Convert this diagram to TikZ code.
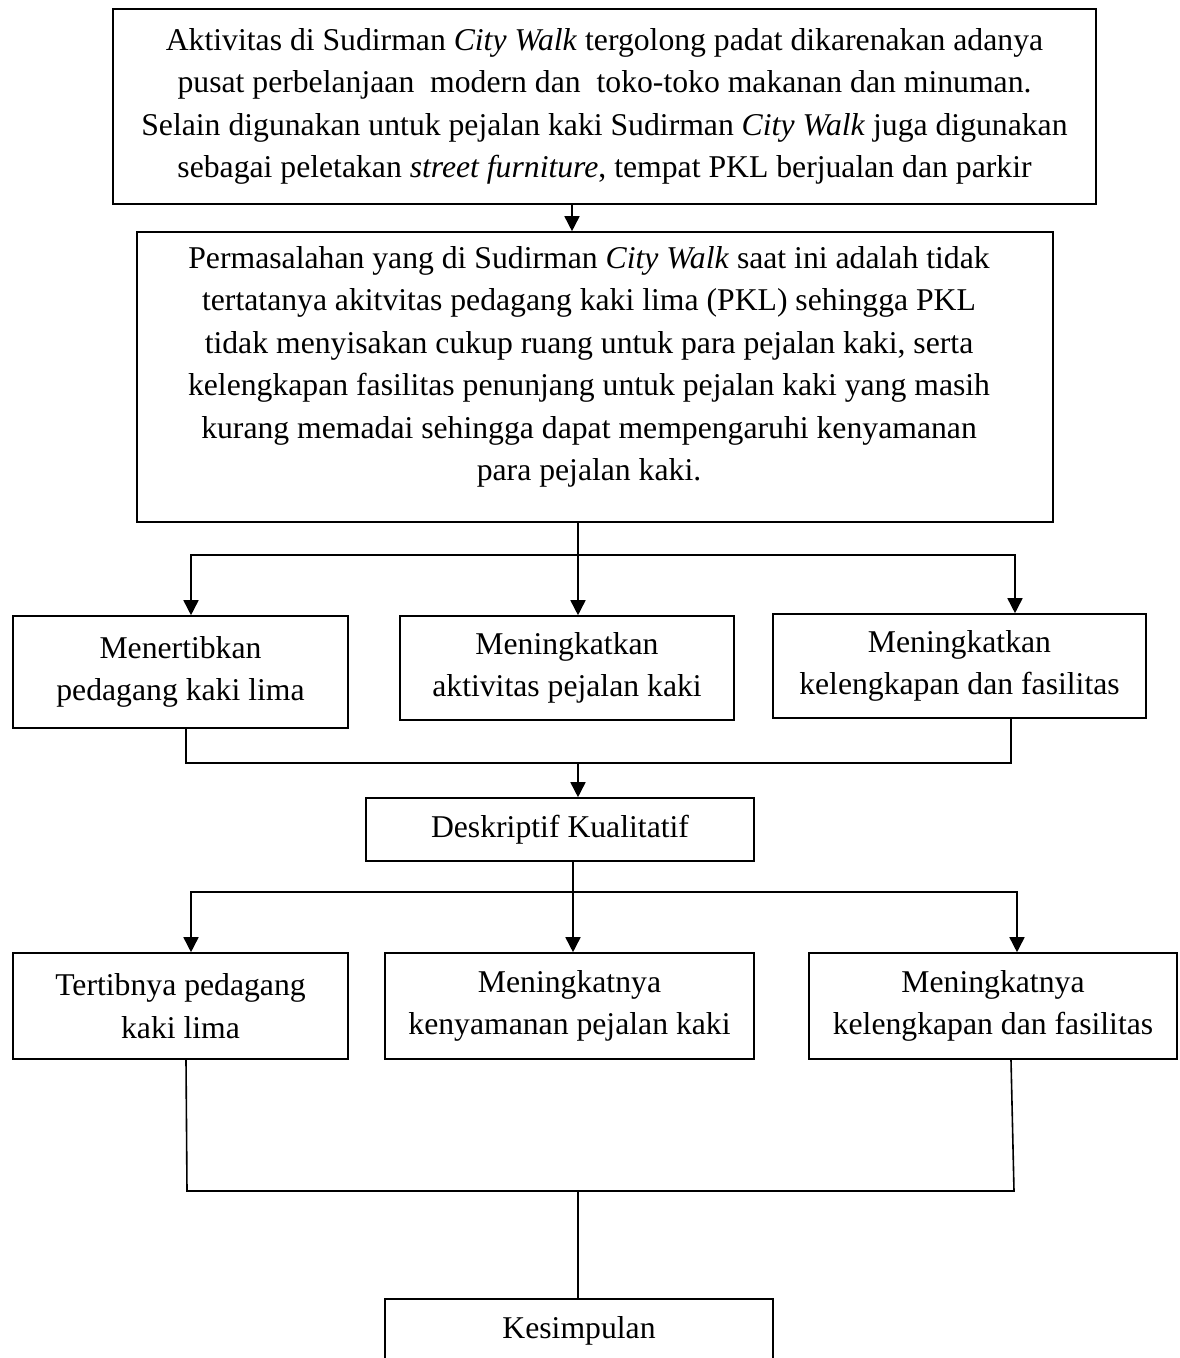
\documentclass[tikz,border=0pt]{standalone}
\usepackage{fontspec}
\setmainfont{Liberation Serif}
\usetikzlibrary{arrows.meta}
\begin{document}
\begin{tikzpicture}[x=1pt,y=-1pt,
  box/.style={draw,line width=1.6pt,inner sep=0pt,align=center,font=\fontsize{31.7}{42.5}\selectfont},
  txt/.style={inner sep=0pt,align=center,font=\fontsize{31.7}{42.5}\selectfont},
  con/.style={line width=1.6pt},
  thinc/.style={line width=1.2pt},
  arr/.style={line width=1.6pt,-{Triangle[length=15pt,width=15pt]}},
  darr/.style={line width=1.6pt,{Triangle[length=15pt,width=15pt]}-{Triangle[length=15pt,width=15pt]}}]
\useasboundingbox (0,0) rectangle (1180,1358);
\fill[white] (0,0) rectangle (1180,1358);

% boxes
\node[box,minimum width=983pt,minimum height=195pt] (top1) at (604.5,106.5)
 {Aktivitas di Sudirman \textit{City Walk} tergolong padat dikarenakan adanya\\
  pusat perbelanjaan\ \ modern dan\ \ toko-toko makanan dan minuman.\\
  Selain digunakan untuk pejalan kaki Sudirman \textit{City Walk} juga digunakan\\
  sebagai peletakan \textit{street furniture}, tempat PKL berjualan dan parkir};

\node[box,minimum width=916pt,minimum height=290pt] (top2) at (595,377) {};
\node[txt] (top2t) at (589,367)
 {Permasalahan yang di Sudirman \textit{City Walk} saat ini adalah tidak\\
  tertatanya akitvitas pedagang kaki lima (PKL) sehingga PKL\\
  tidak menyisakan cukup ruang untuk para pejalan kaki, serta\\
  kelengkapan fasilitas penunjang untuk pejalan kaki yang masih\\
  kurang memadai sehingga dapat mempengaruhi kenyamanan\\
  para pejalan kaki.};

\node[box,minimum width=335pt,minimum height=112pt] (a1) at (180.5,672) {Menertibkan\\ pedagang kaki lima};
\node[box,minimum width=334pt,minimum height=104pt] (a2) at (567,668) {Meningkatkan\\ aktivitas pejalan kaki};
\node[box,minimum width=373pt,minimum height=104pt] (a3) at (959.5,666) {Meningkatkan\\ kelengkapan dan fasilitas};

\node[box,minimum width=388pt,minimum height=63pt] (dk) at (560,829.5) {Deskriptif Kualitatif};

\node[box,minimum width=335pt,minimum height=106pt] (c1) at (180.5,1006) {Tertibnya pedagang\\ kaki lima};
\node[box,minimum width=369pt,minimum height=106pt] (c2) at (569.5,1006) {Meningkatnya\\ kenyamanan pejalan kaki};
\node[box,minimum width=368pt,minimum height=106pt] (c3) at (993,1006) {Meningkatnya\\ kelengkapan dan fasilitas};

\node[box,minimum width=388pt,minimum height=63pt] (ks) at (579,1330.5) {Kesimpulan};

% junction coordinates
\coordinate (x1) at (572,0);
\coordinate (f1C) at (578,555);
\coordinate (f1L) at (191,555);
\coordinate (f1R) at (1015,555);
\coordinate (m1L) at (186,763);
\coordinate (m1R) at (1011,763);
\coordinate (m1C) at (578,763);
\coordinate (f2C) at (573,892);
\coordinate (f2L) at (191,892);
\coordinate (f2R) at (1017,892);
\coordinate (q1) at (186,0);
\coordinate (q3) at (1011,0);
\coordinate (m2L) at (187,1191);
\coordinate (m2R) at (1014,1191);
\coordinate (m2C) at (578,1191);

% connectors
\draw[arr] (top1.south -| x1) -- (top2.north -| x1);

\draw[arr] (top2.south -| f1C) -- (a2.north -| f1C);
\draw[darr] (f1L |- a1.north) -- (f1L) -- (f1R) -- (f1R |- a3.north);

\draw[con] (a1.south -| m1L) -- (m1L) -- (m1R) -- (a3.south -| m1R);
\draw[arr] (m1C) -- (m1C |- dk.north);

\draw[arr] (dk.south -| f2C) -- (c2.north -| f2C);
\draw[darr] (f2L |- c1.north) -- (f2L) -- (f2R) -- (f2R |- c3.north);

\draw[con] (c1.south -| q1) -- (m2L) -- (m2R) -- (c3.south -| q3);
\draw[thinc] (m2C) -- (ks.north -| m2C);
\end{tikzpicture}
\end{document}
